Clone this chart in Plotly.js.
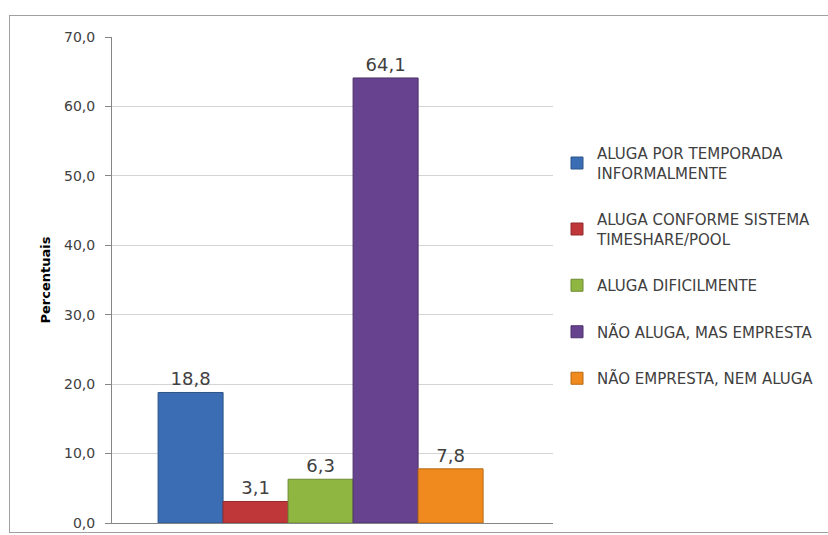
<!DOCTYPE html>
<html>
<head>
<meta charset="utf-8">
<script src="https://cdn.plot.ly/plotly-3.0.1.min.js"></script>
<style>
  html, body { margin: 0; padding: 0; overflow: hidden; background: #ffffff; }
  #frame { position: absolute; left: 9px; top: 15px; width: 900px; height: 518px;
           border: 1px solid #a0a0a0; box-sizing: border-box; }
  #chart { position: absolute; left: 0; top: 0; width: 828px; height: 535px; }
</style>
</head>
<body>
<div id="frame"></div>
<div id="chart"></div>
<script>
const seriesNames = [
  "ALUGA POR TEMPORADA<br>INFORMALMENTE",
  "ALUGA CONFORME SISTEMA<br>TIMESHARE/POOL",
  "ALUGA DIFICILMENTE",
  "NÃO ALUGA, MAS EMPRESTA",
  "NÃO EMPRESTA, NEM ALUGA"
];
const seriesValues = [18.8, 3.1, 6.3, 64.1, 7.8];
const category = ["Total"];
const yTickValues = [0, 10, 20, 30, 40, 50, 60, 70];
const yTitle = "Percentuais";

const fillColors = ["#3a6db3", "#c0373a", "#8fb640", "#66428f", "#f08a1e"];
const lineColors = ["#2c5489", "#922a2c", "#6d8b31", "#4d326c", "#b76916"];

const traces = seriesNames.map((name, i) => ({
  type: "bar",
  name: name,
  x: category,
  y: [seriesValues[i]],
  legendgroup: "g" + i,
  marker: { color: fillColors[i], line: { color: lineColors[i], width: 1 } },
  texttemplate: "%{y:.1f}",
  textposition: "outside",
  cliponaxis: false,
  textfont: { family: "DejaVu Sans", size: 18, color: "#404040" },
  hoverinfo: "skip"
}));

const layout = {
  width: 828,
  height: 535,
  paper_bgcolor: "rgba(0,0,0,0)",
  plot_bgcolor: "rgba(0,0,0,0)",
  separators: ",.",
  margin: { l: 112, r: 275, t: 37, b: 12, pad: 0 },
  barmode: "group",
  bargap: 0.263,
  bargroupgap: 0,
  font: { family: "DejaVu Sans", color: "#404040" },
  xaxis: {
    type: "category",
    range: [-0.473, 0.527],
    showticklabels: false,
    ticks: "",
    showgrid: false,
    showline: true,
    linecolor: "#868686",
    linewidth: 1,
    zeroline: false,
    fixedrange: true
  },
  yaxis: {
    range: [0, 70],
    tickvals: yTickValues,
    tickformat: ".1f",
    ticks: "outside",
    ticklen: 6,
    tickcolor: "#868686",
    ticklabelstandoff: 7,
    tickfont: { family: "DejaVu Sans", size: 14, color: "#404040" },
    showline: true,
    linecolor: "#868686",
    linewidth: 1,
    showgrid: true,
    gridcolor: "#d4d4d4",
    gridwidth: 1,
    zeroline: false,
    title: { text: yTitle, font: { family: "DejaVu Sans", size: 13, color: "#000000", weight: "bold" }, standoff: 10 },
    fixedrange: true
  },
  showlegend: true,
  legend: {
    xref: "container",
    yref: "container",
    x: 557 / 828,
    y: 1 - 137 / 535,
    xanchor: "left",
    yanchor: "top",
    font: { family: "DejaVu Sans", size: 15, color: "#404040" },
    bgcolor: "rgba(0,0,0,0)",
    tracegroupgap: 24,
    itemwidth: 30,
    traceorder: "grouped"
  }
};

Plotly.newPlot("chart", traces, layout, { displayModeBar: false, staticPlot: true });
</script>
</body>
</html>
